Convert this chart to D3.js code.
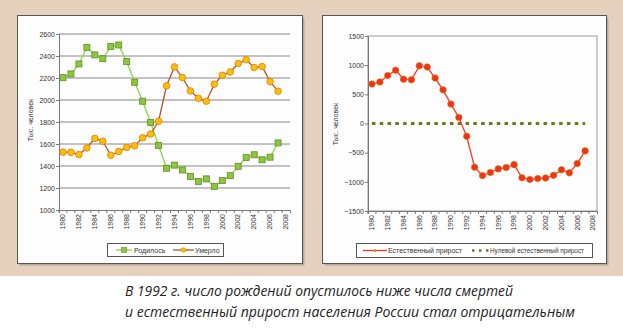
<!DOCTYPE html>
<html>
<head>
<meta charset="utf-8">
<script src="https://cdn.jsdelivr.net/npm/d3@7"></script>
<style>
  body { margin: 0; background: #fff; }
  svg { display: block; }
  text { font-family: "Liberation Sans Narrow", "Liberation Sans", Arial, sans-serif; }
</style>
</head>
<body>
<div id="chart"></div>
<script>
var years = d3.range(1980, 2008);
var tickYears = d3.range(1980, 2009);
var births = [2203, 2237, 2328, 2478, 2410, 2375, 2486, 2500, 2349, 2161, 1989, 1795,
  1588, 1379, 1408, 1364, 1305, 1260, 1283, 1215, 1267, 1312, 1397, 1477, 1502, 1457, 1480, 1610];
var deaths = [1526, 1524, 1504, 1564, 1651, 1625, 1498, 1532, 1569, 1584, 1656, 1691,
  1807, 2129, 2301, 2204, 2082, 2016, 1989, 2144, 2225, 2255, 2332, 2366, 2295, 2304, 2167, 2080];
var natural = [677, 712, 824, 914, 759, 750, 988, 968, 779, 577, 333, 104,
  -220, -750, -893, -840, -778, -756, -705, -930, -959, -943, -935, -889, -793, -846, -687, -470];
var leftTicks = [1000, 1200, 1400, 1600, 1800, 2000, 2200, 2400, 2600];
var rightTicks = [-1500, -1000, -500, 0, 500, 1000, 1500];
var yTitle = 'Тыс. человек';
var caption = ['В 1992 г. число рождений опустилось ниже числа смертей',
  'и естественный прирост населения России стал отрицательным'];

var W = 623, H = 330;
var svg = d3.select('#chart').append('svg').attr('width', W).attr('height', H);

// beige frame behind both panels
svg.append('rect').attr('x', 0).attr('y', 0).attr('width', W).attr('height', 276).attr('fill', '#e6d1be');

function panel(x, y, w, h) {
  svg.append('rect').attr('x', x + 2).attr('y', y + 2).attr('width', w).attr('height', h).attr('fill', '#b9a898');
  svg.append('rect').attr('x', x).attr('y', y).attr('width', w).attr('height', h)
    .attr('fill', '#fdfdfd').attr('stroke', '#555').attr('stroke-width', 1);
}
panel(17.5, 15.5, 285, 248);
panel(322.5, 15.5, 284, 248);

function xAxis(g, x, y0) {
  var ax = g.append('g').attr('transform', `translate(0, ${y0})`)
    .call(d3.axisBottom(x).tickSize(3).tickFormat(d => d % 2 === 0 ? d : ''));
  ax.select('.domain').attr('stroke', '#777');
  ax.selectAll('.tick line').attr('stroke', '#777').attr('transform', `translate(${-x.step() / 2},0)`);
  ax.selectAll('.tick text')
    .attr('transform', 'rotate(-90)')
    .attr('x', -4).attr('y', 0).attr('dy', '0.32em')
    .style('text-anchor', 'end').style('font-size', '7px').attr('fill', '#333');
}

function yAxis(g, y, x0, ticks) {
  var ax = g.append('g').attr('transform', `translate(${x0}, 0)`)
    .call(d3.axisLeft(y).tickValues(ticks).tickSize(3).tickFormat(d3.format('d')));
  ax.select('.domain').attr('stroke', '#777');
  ax.selectAll('.tick line').attr('stroke', '#777');
  ax.selectAll('.tick text').style('font-size', '7px').attr('fill', '#333').attr('x', -4);
}

function title(x, y) {
  svg.append('text').attr('transform', `translate(${x}, ${y}) rotate(-90)`)
    .attr('text-anchor', 'middle').style('font-size', '7px').attr('fill', '#333').text(yTitle);
}

// ---- left chart: births and deaths
var xl = d3.scaleBand().domain(tickYears).range([59, 290]);
var yl = d3.scaleLinear().domain([1000, 2600]).range([210, 34]);
var gl = svg.append('g');

gl.selectAll('.grid').data(leftTicks.slice(1)).enter().append('line')
  .attr('x1', 59).attr('x2', 290).attr('y1', d => yl(d)).attr('y2', d => yl(d))
  .attr('stroke', '#888').attr('stroke-width', 1.2);
xAxis(gl, xl, 210);
yAxis(gl, yl, 59, leftTicks);
title(33, 120);

var cx = (s, x) => s(x) + s.bandwidth() / 2;
var lineL = (vals) => d3.line().x((d, i) => cx(xl, years[i])).y(d => yl(d))(vals);

gl.append('path').attr('d', lineL(births)).attr('fill', 'none').attr('stroke', '#92d050').attr('stroke-width', 1.3);
gl.append('path').attr('d', lineL(deaths)).attr('fill', 'none').attr('stroke', '#b5532d').attr('stroke-width', 1.3);
gl.selectAll('.b').data(births).enter().append('rect')
  .attr('x', (d, i) => cx(xl, years[i]) - 3).attr('y', d => yl(d) - 3)
  .attr('width', 6).attr('height', 6).attr('fill', '#8dc63f').attr('stroke', '#5f8f23').attr('stroke-width', 0.8);
gl.selectAll('.d').data(deaths).enter().append('circle')
  .attr('cx', (d, i) => cx(xl, years[i])).attr('cy', d => yl(d)).attr('r', 3.3)
  .attr('fill', '#ffc000').attr('stroke', '#e07a10').attr('stroke-width', 0.8);

// legend left
var lg = svg.append('g');
lg.append('rect').attr('x', 107.5).attr('y', 243.5).attr('width', 116).attr('height', 13)
  .attr('fill', '#fff').attr('stroke', '#555');
lg.append('line').attr('x1', 116).attr('x2', 132).attr('y1', 250).attr('y2', 250).attr('stroke', '#92d050').attr('stroke-width', 1.3);
lg.append('rect').attr('x', 121.5).attr('y', 247.5).attr('width', 5).attr('height', 5).attr('fill', '#8dc63f').attr('stroke', '#5f8f23').attr('stroke-width', 0.6);
lg.append('text').attr('x', 134).attr('y', 252.5).style('font-size', '7px').attr('fill', '#333').text('Родилось');
lg.append('line').attr('x1', 173).attr('x2', 194).attr('y1', 250).attr('y2', 250).attr('stroke', '#b5532d').attr('stroke-width', 1.3);
lg.append('circle').attr('cx', 183.5).attr('cy', 250).attr('r', 2.3).attr('fill', '#ffc000').attr('stroke', '#e07a10').attr('stroke-width', 0.6);
lg.append('text').attr('x', 195).attr('y', 252.5).style('font-size', '7px').attr('fill', '#333').text('Умерло');

// ---- right chart: natural increase
var xr = d3.scaleBand().domain(tickYears).range([368, 597]);
var yr = d3.scaleLinear().domain([-1500, 1500]).range([211, 36]);
var gr = svg.append('g');
gr.append('rect').attr('x', 368).attr('y', 36).attr('width', 229).attr('height', 175)
  .attr('fill', 'none').attr('stroke', '#999').attr('stroke-width', 1);
xAxis(gr, xr, 211);
yAxis(gr, yr, 368, rightTicks);
title(338, 124);

gr.append('path')
  .attr('d', d3.line().x((d, i) => cx(xr, years[i])).y(d => yr(0))(years))
  .attr('fill', 'none').attr('stroke', '#6b7a16').attr('stroke-width', 3.2).attr('stroke-dasharray', '3.5,4.3');
gr.append('path')
  .attr('d', d3.line().x((d, i) => cx(xr, years[i])).y(d => yr(d))(natural))
  .attr('fill', 'none').attr('stroke', '#ff3222').attr('stroke-width', 1.3);
gr.selectAll('.n').data(natural).enter().append('circle')
  .attr('cx', (d, i) => cx(xr, years[i])).attr('cy', d => yr(d)).attr('r', 3.3)
  .attr('fill', '#f5330f').attr('stroke', '#b59a3a').attr('stroke-width', 1).attr('stroke-dasharray', '1,1');

// legend right
var rg = svg.append('g');
rg.append('rect').attr('x', 356.5).attr('y', 243.5).attr('width', 236).attr('height', 14)
  .attr('fill', '#fff').attr('stroke', '#555');
rg.append('line').attr('x1', 363).attr('x2', 387).attr('y1', 250.5).attr('y2', 250.5).attr('stroke', '#ff3222').attr('stroke-width', 1.3);
rg.append('circle').attr('cx', 375).attr('cy', 250.5).attr('r', 1.6).attr('fill', '#b59a3a');
rg.append('text').attr('x', 388).attr('y', 253).style('font-size', '7px').attr('fill', '#333').text('Естественный прирост');
rg.append('line').attr('x1', 472).attr('x2', 490).attr('y1', 250.5).attr('y2', 250.5)
  .attr('stroke', '#6b7a16').attr('stroke-width', 2.5).attr('stroke-dasharray', '2.5,4.5');
rg.append('text').attr('x', 490).attr('y', 253).style('font-size', '7px').attr('fill', '#333')
  .attr('textLength', 94).attr('lengthAdjust', 'spacingAndGlyphs').text('Нулевой естественный прирост');

// caption
svg.selectAll('.cap').data(caption).enter().append('text')
  .attr('x', 125).attr('y', (d, i) => 296 + i * 21)
  .style('font-family', '"Open Sans", "Noto Sans", sans-serif')
  .style('font-style', 'italic').style('font-size', '15px').attr('fill', '#222')
  .attr('textLength', (d, i) => i === 0 ? 388 : 450).attr('lengthAdjust', 'spacingAndGlyphs')
  .text(d => d);
</script>
</body>
</html>
